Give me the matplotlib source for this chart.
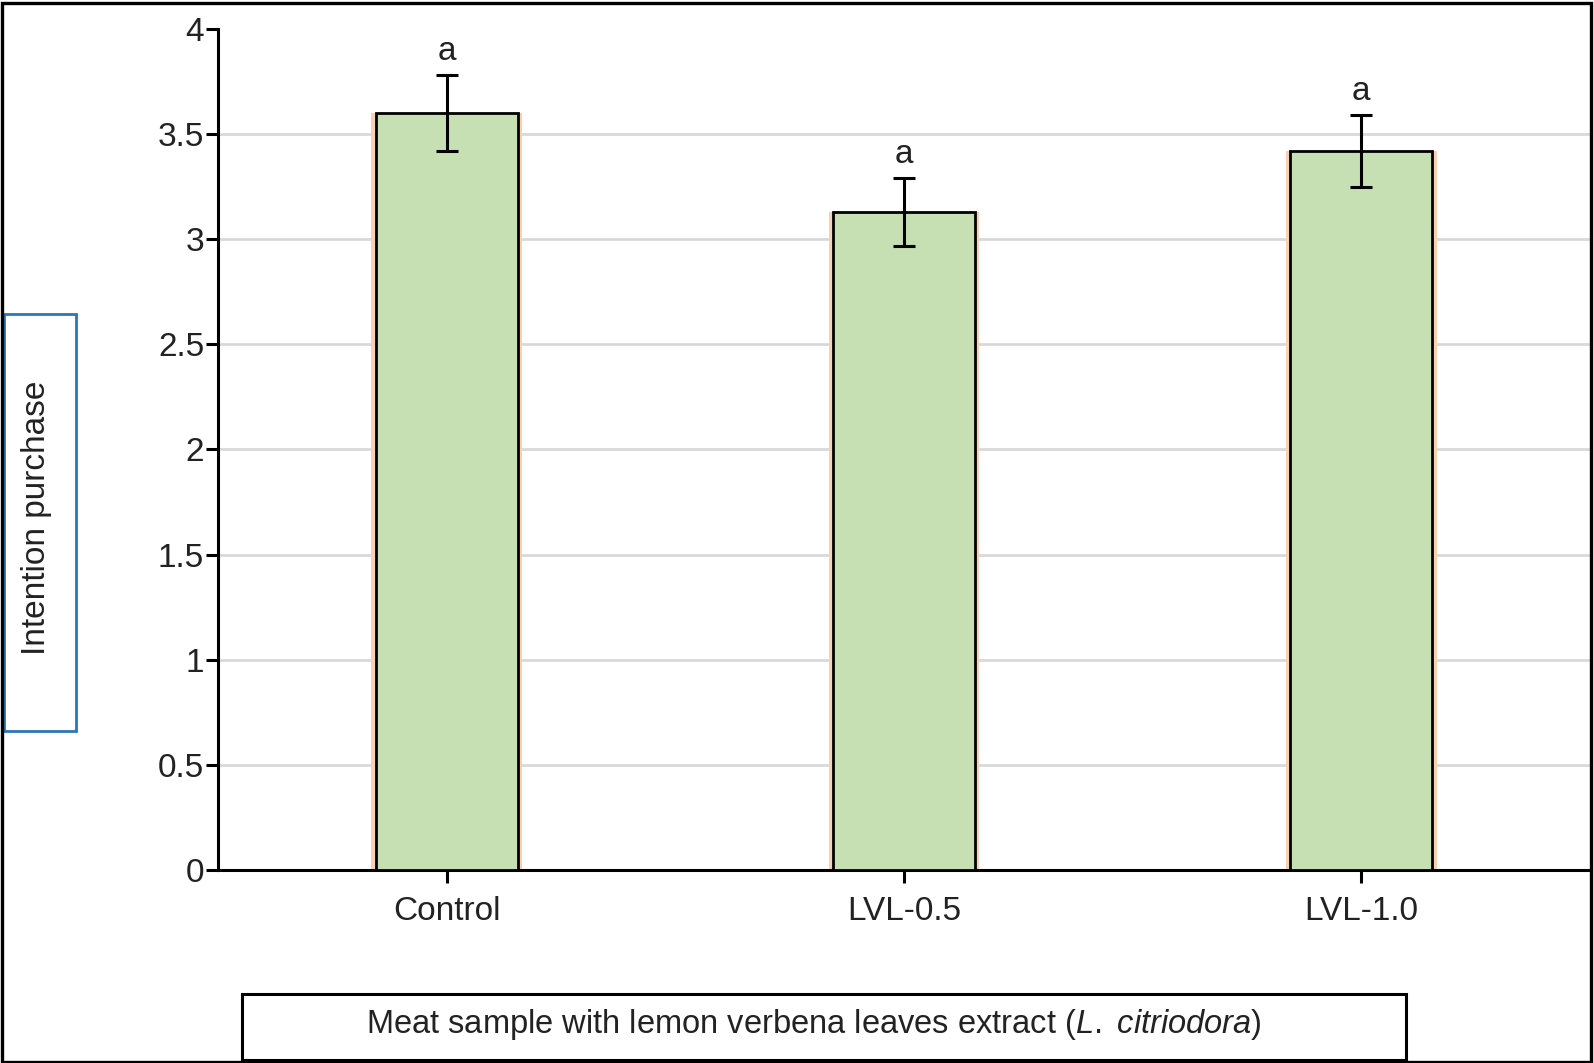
import matplotlib
matplotlib.use('Agg')
import matplotlib.pyplot as plt
from matplotlib.patches import Rectangle

plt.rcParams['font.family'] = ['Liberation Sans', 'DejaVu Sans']
plt.rcParams['mathtext.fontset'] = 'custom'
plt.rcParams['mathtext.rm'] = 'Liberation Sans'
plt.rcParams['mathtext.it'] = 'Liberation Sans:italic'

groups = ['Control', 'LVL-0.5', 'LVL-1.0']
means = [3.60, 3.13, 3.42]
errors = [0.18, 0.16, 0.17]
letters = ['a', 'a', 'a']
yticks = [0, 0.5, 1, 1.5, 2, 2.5, 3, 3.5, 4]
ytick_labels = ['0', '0.5', '1', '1.5', '2', '2.5', '3', '3.5', '4']

fig = plt.figure(figsize=(15.94, 10.63), dpi=100)
ax = fig.add_axes([0.1368, 0.1816, 0.8607, 0.7911])

x = list(range(len(groups)))
width = 0.31

# faint orange glow at bar edges
ax.bar(x, means, width=width + 0.02, color='#fbd0b2', edgecolor='none', zorder=2)
ax.bar(x, means, width=width, color='#c6e0b4', edgecolor='black', linewidth=2, zorder=3)
ax.errorbar(x, means, yerr=errors, fmt='none', ecolor='black', elinewidth=2.2,
            capsize=8, capthick=2.2, zorder=4)
for xi, m, e, lab in zip(x, means, errors, letters):
    ax.text(xi, m + e + 0.04, lab, ha='center', va='bottom', fontsize=24, color='#222222')

ax.set_xlim(-0.5, 2.5)
ax.set_ylim(0, 4)
ax.set_yticks(yticks)
ax.set_yticklabels(ytick_labels)
ax.set_xticks(x)
ax.set_xticklabels(groups)
for yv in yticks[1:-1]:
    ax.axhline(yv, color='#d9d9d9', linewidth=2, zorder=1)

ax.spines['top'].set_visible(False)
ax.spines['right'].set_visible(False)
ax.spines['left'].set_linewidth(2.2)
ax.spines['bottom'].set_linewidth(2.2)
ax.tick_params(axis='both', direction='out', length=9, width=2.2, labelsize=24,
               colors='black', labelcolor='#222222')
ax.tick_params(axis='x', pad=10)
ax.tick_params(axis='y', pad=1)

# y label in blue box
fig.patches.append(Rectangle((4 / 1594, 1 - 731 / 1063), 72 / 1594, 417 / 1063,
                             transform=fig.transFigure, fill=False,
                             edgecolor='#2e75b6', linewidth=2))
fig.text(37 / 1594, 1 - 518 / 1063, 'Intention purchase', rotation=90,
         ha='center', va='center', fontsize=24, color='#222222')

# x label in black box
fig.patches.append(Rectangle((242 / 1594, 1 - 1060 / 1063), 1164 / 1594, 66 / 1063,
                             transform=fig.transFigure, fill=False,
                             edgecolor='black', linewidth=2.2))
fig.text(814 / 1594, 1 - 1024 / 1063,
         'Meat sample with lemon verbena leaves extract ($\\it{L.}$ $\\it{citriodora}$)',
         ha='center', va='center', fontsize=23.5, color='#222222')

# outer frame
fig.patches.append(Rectangle((1.5 / 1594, 1.5 / 1063), 1589 / 1594, 1059 / 1063,
                             transform=fig.transFigure, fill=False,
                             edgecolor='black', linewidth=2.4))

fig.savefig('out.png', dpi=100)
